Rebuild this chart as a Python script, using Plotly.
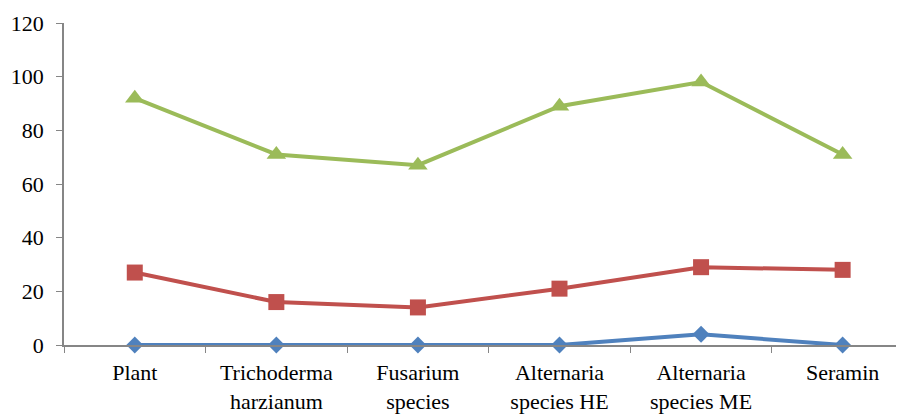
import plotly.graph_objects as go

categories = ["Plant", "Trichoderma<br>harzianum", "Fusarium<br>species",
              "Alternaria<br>species HE", "Alternaria<br>species ME", "Seramin"]
series_blue = [0, 0, 0, 0, 4, 0]
series_red = [27, 16, 14, 21, 29, 28]
series_green = [92, 71, 67, 89, 98, 71]
y_ticks = [0, 20, 40, 60, 80, 100, 120]

FONT = "Liberation Serif, Times New Roman, serif"

fig = go.Figure()
fig.add_trace(go.Scatter(x=categories, y=series_blue, mode="lines+markers",
                         line=dict(color="#4F81BD", width=4),
                         marker=dict(symbol="diamond", size=13, color="#4F81BD"),
                         cliponaxis=False))
fig.add_trace(go.Scatter(x=categories, y=series_red, mode="lines+markers",
                         line=dict(color="#C0504D", width=4),
                         marker=dict(symbol="square", size=16, color="#C0504D"),
                         cliponaxis=False))
fig.add_trace(go.Scatter(x=categories, y=series_green, mode="lines+markers",
                         line=dict(color="#9BBB59", width=4),
                         marker=dict(symbol="triangle-up", size=17, color="#9BBB59"),
                         cliponaxis=False))

fig.update_layout(
    width=904, height=417,
    margin=dict(l=56, r=0, t=15, b=80, autoexpand=False),
    paper_bgcolor="white", plot_bgcolor="white",
    showlegend=False,
    font=dict(family=FONT, size=22, color="black"),
)
fig.update_xaxes(type="category", range=[-0.5, 5.49], tickson="boundaries",
                 ticks="outside", ticklen=6, tickcolor="#868686",
                 showline=True, linecolor="#868686", linewidth=1.5,
                 showgrid=False, zeroline=False, automargin=False,
                 ticklabelstandoff=7,
                 tickfont=dict(family=FONT, size=22, color="black"))
fig.update_yaxes(range=[0, 120], tickvals=y_ticks, ticks="outside", ticklen=6,
                 tickcolor="#868686", showline=True, linecolor="#868686", linewidth=1.5,
                 showgrid=False, zeroline=False, ticklabelstandoff=8, automargin=False,
                 tickfont=dict(family=FONT, size=22, color="black"))

fig.write_html("out.html")
